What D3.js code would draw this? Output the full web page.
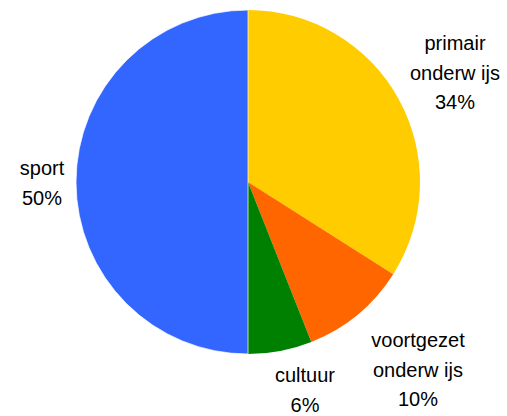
<!DOCTYPE html>
<html>
<head>
<meta charset="utf-8">
<script src="https://cdn.jsdelivr.net/npm/d3@7"></script>
<style>
  html, body { margin: 0; padding: 0; background: #fff; }
  svg { display: block; }
  text { font-family: "Liberation Sans", Arial, sans-serif; font-size: 20px; fill: #000; }
</style>
</head>
<body>
<svg id="chart" width="507" height="416"></svg>
<script>
// Data
const categories = ["primair onderwijs", "voortgezet onderwijs", "cultuur", "sport"];
const labelLines = [["primair", "onderw ijs"], ["voortgezet", "onderw ijs"], ["cultuur"], ["sport"]];
const values = [34, 10, 6, 50];
const colors = ["#FFCC00", "#FF6600", "#008000", "#3366FF"];

// Layout
const W = 507, H = 416;
const cx = 248, cy = 182, R = 172;
const labelPos = [[455, 50], [418, 347], [305, 382], [42, 175]];
const lineGap = 29.5;

const svg = d3.select("#chart");
const g = svg.append("g").attr("transform", `translate(${cx},${cy})`);

const pie = d3.pie().sort(null).value(d => d);
const arcs = pie(values);
const arc = d3.arc().innerRadius(0).outerRadius(R);

g.selectAll("path.slice")
  .data(arcs)
  .join("path")
  .attr("class", "slice")
  .attr("d", arc)
  .attr("fill", (d, i) => colors[i])
  .attr("stroke", (d, i) => i === 3 ? "#fff" : "none")
  .attr("stroke-width", 1)
  .attr("stroke-opacity", 0.7);

const total = d3.sum(values);
const labels = svg.selectAll("text.lbl")
  .data(arcs)
  .join("text")
  .attr("class", "lbl")
  .attr("text-anchor", "middle")
  .attr("x", (d, i) => labelPos[i][0])
  .attr("y", (d, i) => labelPos[i][1]);

labels.each(function(d, i) {
  const t = d3.select(this);
  const lines = labelLines[i].concat([Math.round(d.value / total * 100) + "%"]);
  lines.forEach((ln, j) => {
    t.append("tspan")
      .attr("x", labelPos[i][0])
      .attr("dy", j === 0 ? 0 : lineGap)
      .text(ln);
  });
});
</script>
</body>
</html>
